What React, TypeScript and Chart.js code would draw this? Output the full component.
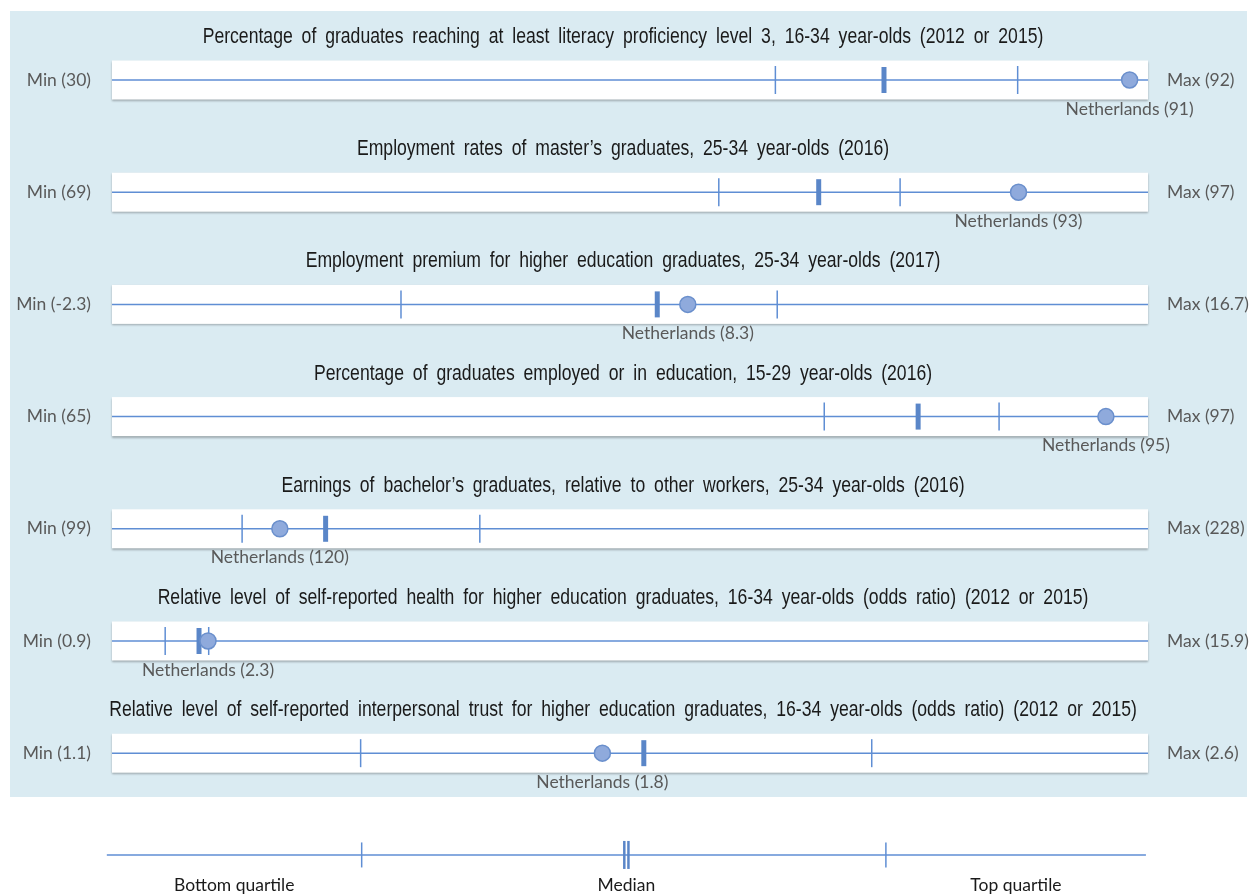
import React, { useEffect, useRef } from 'react';
import { Chart, registerables } from 'chart.js';

Chart.register(...registerables);

// ---------- data ----------
const titles = [
  'Percentage of graduates reaching at least literacy proficiency level 3, 16-34 year-olds (2012 or 2015)',
  'Employment rates of master\u2019s graduates, 25-34 year-olds (2016)',
  'Employment premium for higher education graduates, 25-34 year-olds (2017)',
  'Percentage of graduates employed or in education, 15-29 year-olds (2016)',
  'Earnings of bachelor\u2019s graduates, relative to other workers, 25-34 year-olds (2016)',
  'Relative level of self-reported health for higher education graduates, 16-34 year-olds (odds ratio) (2012 or 2015)',
  'Relative level of self-reported interpersonal trust for higher education graduates, 16-34 year-olds (odds ratio) (2012 or 2015)',
];
const minVals = [30, 69, -2.3, 65, 99, 0.9, 1.1];
const maxVals = [92, 97, 16.7, 97, 228, 15.9, 2.6];
const minLabels = ['30', '69', '-2.3', '65', '99', '0.9', '1.1'];
const maxLabels = ['92', '97', '16.7', '97', '228', '15.9', '2.6'];
const q1Vals = [69.7, 85.4, 3.0, 87.0, 115.2, 1.67, 1.46];
const medianVals = [76.2, 88.1, 7.7, 89.9, 125.6, 2.16, 1.87];
const q3Vals = [84.2, 90.3, 9.9, 92.4, 144.8, 2.3, 2.2];
const countryVals = [90.9, 93.5, 8.26, 95.7, 119.9, 2.29, 1.81];
const countryLabels = ['91', '93', '8.3', '95', '120', '2.3', '1.8'];
const countryName = 'Netherlands';

// legend (schematic, on a 0..1 scale)
const legendLabels = ['Bottom quartile', 'Median', 'Top quartile'];
const legendLine = [-0.005, 0.998];
const legendQuartiles = [0.241, 0.747];
const legendMedian = [0.4945, 0.4985];
const LEGEND_ROW = 6.907;

// ---------- styles ----------
const LINE_COLOR = '#5F8ED4';
const MEDIAN_COLOR = '#5A86C8';
const DOT_FILL = '#8FAADC';
const DOT_BORDER = '#6A8FCC';
const PANEL = '#DAEBF2';
const TITLE_FONT = "22px 'Liberation Sans', Arial, sans-serif";
const LABEL_FONT = "17.5px Lato, 'Open Sans', sans-serif";

export default function App() {
  const ref = useRef<HTMLCanvasElement | null>(null);

  useEffect(() => {
    const canvas = ref.current;
    if (!canvas) return;

    const datasets: any[] = [];
    const scales: any = {
      y: { type: 'linear', min: -0.713, max: 7.264, reverse: true, display: false },
      xl: { type: 'linear', min: 0, max: 1, display: false },
    };

    titles.forEach((_, i) => {
      const id = 'x' + i;
      scales[id] = { type: 'linear', min: minVals[i], max: maxVals[i], display: false };
      datasets.push({
        data: [
          { x: minVals[i], y: i },
          { x: maxVals[i], y: i },
        ],
        xAxisID: id,
        showLine: true,
        borderColor: LINE_COLOR,
        borderWidth: 1.5,
        pointRadius: 0,
        order: 5,
        clip: false,
      });
      datasets.push({
        data: [
          { x: q1Vals[i], y: i },
          { x: q3Vals[i], y: i },
        ],
        xAxisID: id,
        pointStyle: 'line',
        pointRotation: 90,
        pointRadius: 14,
        pointBorderWidth: 1.5,
        pointBorderColor: LINE_COLOR,
        order: 3,
        clip: false,
      });
      datasets.push({
        data: [{ x: medianVals[i], y: i }],
        xAxisID: id,
        pointStyle: 'line',
        pointRotation: 90,
        pointRadius: 13,
        pointBorderWidth: 5,
        pointBorderColor: MEDIAN_COLOR,
        order: 2,
        clip: false,
      });
      datasets.push({
        data: [{ x: countryVals[i], y: i }],
        xAxisID: id,
        pointStyle: 'circle',
        pointRadius: 8,
        pointBackgroundColor: DOT_FILL,
        pointBorderColor: DOT_BORDER,
        pointBorderWidth: 1.5,
        order: 1,
        clip: false,
      });
    });

    // legend
    datasets.push({
      data: legendLine.map((x) => ({ x, y: LEGEND_ROW })),
      xAxisID: 'xl',
      showLine: true,
      borderColor: LINE_COLOR,
      borderWidth: 1.5,
      pointRadius: 0,
      order: 5,
      clip: false,
    });
    datasets.push({
      data: legendQuartiles.map((x) => ({ x, y: LEGEND_ROW })),
      xAxisID: 'xl',
      pointStyle: 'line',
      pointRotation: 90,
      pointRadius: 12.5,
      pointBorderWidth: 1.5,
      pointBorderColor: LINE_COLOR,
      order: 3,
      clip: false,
    });
    datasets.push({
      data: legendMedian.map((x) => ({ x, y: LEGEND_ROW })),
      xAxisID: 'xl',
      pointStyle: 'line',
      pointRotation: 90,
      pointRadius: 14,
      pointBorderWidth: 2.5,
      pointBorderColor: MEDIAN_COLOR,
      order: 2,
      clip: false,
    });

    const decor = {
      id: 'decor',
      beforeDatasetsDraw(chart: any) {
        const ctx = chart.ctx;
        const area = chart.chartArea;
        const y = chart.scales.y;
        ctx.save();
        ctx.fillStyle = '#ffffff';
        ctx.fillRect(0, 0, chart.width, chart.height);
        ctx.fillStyle = PANEL;
        ctx.fillRect(10, 11, 1237, 786);
        titles.forEach((_, i) => {
          const yp = y.getPixelForValue(i);
          ctx.save();
          ctx.shadowColor = 'rgba(0,0,0,0.28)';
          ctx.shadowBlur = 2;
          ctx.shadowOffsetY = 1.5;
          ctx.fillStyle = '#ffffff';
          ctx.fillRect(area.left, yp - 19.5, area.right - area.left, 39);
          ctx.restore();
        });
        ctx.restore();
      },
      afterDatasetsDraw(chart: any) {
        const ctx = chart.ctx;
        const y = chart.scales.y;
        ctx.save();
        titles.forEach((t, i) => {
          const yp = y.getPixelForValue(i);
          const xs = chart.scales['x' + i];
          ctx.save();
          ctx.translate(623, yp - 43);
          ctx.scale(0.8, 1);
          ctx.textBaseline = 'middle';
          ctx.font = TITLE_FONT;
          try {
            (ctx as any).wordSpacing = '5px';
          } catch (e) {}
          ctx.fillStyle = '#1a1a1a';
          ctx.textAlign = 'center';
          ctx.fillText(t, 0, 0);
          ctx.restore();

          ctx.textBaseline = 'middle';
          ctx.font = LABEL_FONT;
          ctx.fillStyle = '#595959';
          ctx.textAlign = 'right';
          ctx.fillText('Min (' + minLabels[i] + ')', 91, yp);
          ctx.textAlign = 'left';
          ctx.fillText('Max (' + maxLabels[i] + ')', 1167, yp);
          ctx.textAlign = 'center';
          ctx.fillText(countryName + ' (' + countryLabels[i] + ')', xs.getPixelForValue(countryVals[i]), yp + 29);
        });
        const xl = chart.scales.xl;
        const ly = y.getPixelForValue(LEGEND_ROW) + 30;
        ctx.font = LABEL_FONT;
        ctx.fillStyle = '#1a1a1a';
        ctx.textAlign = 'center';
        ctx.textBaseline = 'middle';
        const pos = [
          (legendLine[0] + legendQuartiles[0]) / 2,
          (legendMedian[0] + legendMedian[1]) / 2,
          (legendQuartiles[1] + legendLine[1]) / 2,
        ];
        legendLabels.forEach((l, k) => ctx.fillText(l, xl.getPixelForValue(pos[k]), ly));
        ctx.restore();
      },
    };

    const chart = new Chart(canvas, {
      type: 'scatter',
      data: { datasets },
      options: {
        animation: false,
        responsive: false,
        devicePixelRatio: 1,
        events: [],
        layout: { autoPadding: false, padding: { left: 112, right: 103, top: 0, bottom: 0 } },
        scales,
        plugins: { legend: { display: false }, tooltip: { enabled: false } },
      } as any,
      plugins: [decor],
    });
    return () => chart.destroy();
  }, []);

  return (
    <div style={{ position: 'absolute', left: 0, top: 0, width: 1251, height: 895, background: '#fff' }}>
      <canvas ref={ref} width={1251} height={895} style={{ display: 'block' }} />
    </div>
  );
}
